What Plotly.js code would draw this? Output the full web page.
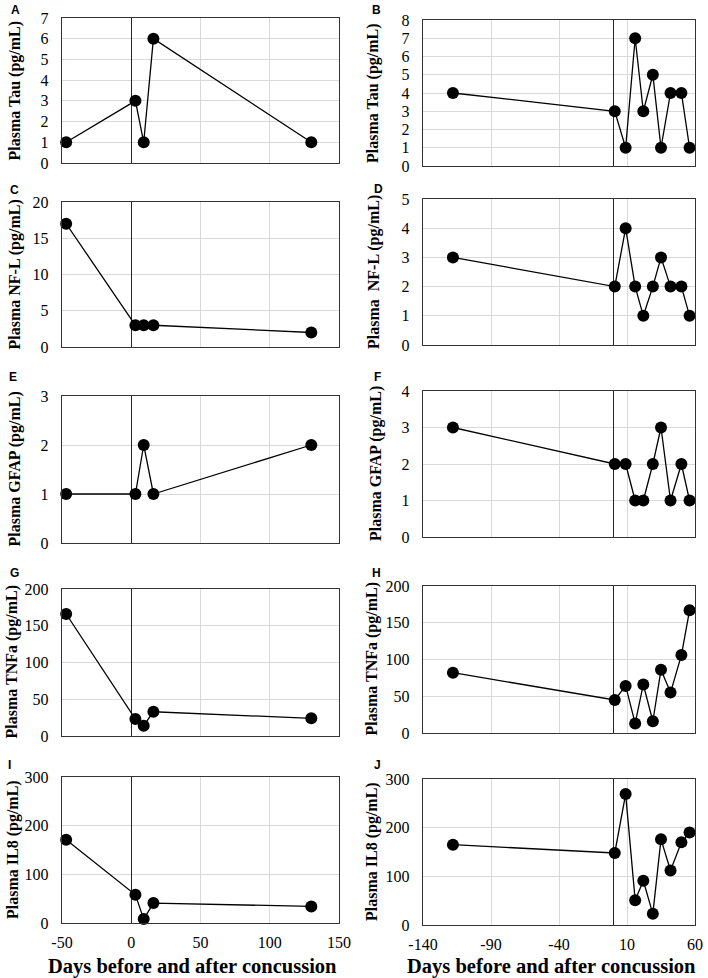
<!DOCTYPE html>
<html>
<head>
<meta charset="utf-8">
<script src="https://cdn.plot.ly/plotly-3.0.1.min.js"></script>
<style>
  html, body { margin: 0; padding: 0; background: #fff; }
  #chart { width: 708px; height: 978px; }
</style>
</head>
<body>
<div id="chart"></div>
<script>
// days relative to the concussion (day 0)
const leftDays = [-47, 3, 9, 16, 130];
const rightDays = [-118, 1, 9, 16, 22, 29, 35, 42, 50, 56];

// left column (A, C, E, G, I)
const tauA = [1, 3, 1, 6, 1];
const nflC = [17, 3, 3, 3, 2];
const gfapE = [1, 1, 2, 1, 2];
const tnfG = [166, 23, 14, 33, 24];
const il8I = [171, 58, 8, 41, 34];

// right column (B, D, F, H, J)
const tauB = [4, 3, 1, 7, 3, 5, 1, 4, 4, 1];
const nflD = [3, 2, 4, 2, 1, 2, 3, 2, 2, 1];
const gfapF = [3, 2, 2, 1, 1, 2, 3, 1, 2, 1];
const tnfH = [82, 45, 64, 13, 66, 16, 86, 55, 106, 167];
const il8J = [165, 148, 269, 51, 91, 23, 176, 112, 170, 190];

const leftTicks = [-50, 0, 50, 100, 150];
const leftTickText = ['-50', '0', '50', '100', '150'];
const rightTicks = [-140, -90, -40, 10, 60];
const rightTickText = ['-140', '-90', '-40', '10', '60'];

const W = 708, H = 978;
const serif = 'Liberation Serif, Times New Roman, serif';

const panels = [
  { letter: 'A', title: 'Plasma Tau (pg/mL)', y: tauA, ymax: 7, dtick: 1, col: 0, top: 18, bot: 163, tx: 15 },
  { letter: 'B', title: 'Plasma Tau (pg/mL)', y: tauB, ymax: 8, dtick: 1, col: 1, top: 20, bot: 166, tx: 373 },
  { letter: 'C', title: 'Plasma NF-L (pg/mL)', y: nflC, ymax: 20, dtick: 5, col: 0, top: 202, bot: 347, tx: 14 },
  { letter: 'D', title: 'Plasma  NF-L (pg/mL)', y: nflD, ymax: 5, dtick: 1, col: 1, top: 199, bot: 345, tx: 374 },
  { letter: 'E', title: 'Plasma GFAP (pg/mL)', y: gfapE, ymax: 3, dtick: 1, col: 0, top: 396, bot: 543, tx: 14 },
  { letter: 'F', title: 'Plasma GFAP (pg/mL)', y: gfapF, ymax: 4, dtick: 1, col: 1, top: 391, bot: 537, tx: 376 },
  { letter: 'G', title: 'Plasma TNFa (pg/mL)', y: tnfG, ymax: 200, dtick: 50, col: 0, top: 589, bot: 736, tx: 11 },
  { letter: 'H', title: 'Plasma TNFa (pg/mL)', y: tnfH, ymax: 200, dtick: 50, col: 1, top: 586, bot: 733, tx: 371 },
  { letter: 'I', title: 'Plasma IL8 (pg/mL)', y: il8I, ymax: 300, dtick: 100, col: 0, top: 777, bot: 923, tx: 13 },
  { letter: 'J', title: 'Plasma IL8 (pg/mL)', y: il8J, ymax: 300, dtick: 100, col: 1, top: 779, bot: 925, tx: 372 }
];

const letterPos = [[9, 10], [370, 10], [8, 190], [372, 189], [7, 377], [372, 377], [8, 573], [370, 573], [6, 765], [372, 765]];
const colX = [[62, 339], [423, 695]];

const data = [];
const layout = {
  width: W,
  height: H,
  margin: { l: 0, r: 0, t: 0, b: 0 },
  paper_bgcolor: '#fff',
  plot_bgcolor: '#fff',
  showlegend: false,
  font: { family: serif, color: '#000' },
  annotations: []
};

panels.forEach((p, i) => {
  const n = i === 0 ? '' : String(i + 1);
  const left = p.col === 0;
  const bottom = i >= 8;
  data.push({
    x: left ? leftDays : rightDays,
    y: p.y,
    xaxis: 'x' + n,
    yaxis: 'y' + n,
    mode: 'lines+markers',
    line: { color: '#000', width: 1.3 },
    marker: { color: '#000', size: 12 },
    cliponaxis: false,
    hoverinfo: 'x+y'
  });
  layout['xaxis' + n] = {
    domain: [colX[p.col][0] / W, colX[p.col][1] / W],
    anchor: 'y' + n,
    range: left ? [-50, 150] : [-140, 60],
    tickvals: left ? leftTicks : rightTicks,
    ticktext: left ? leftTickText : rightTickText,
    showticklabels: bottom,
    tickfont: { family: serif, size: 16, color: '#000' },
    ticklabelstandoff: 5,
    ticks: '',
    showgrid: true,
    gridcolor: '#d9d9d9',
    gridwidth: 1,
    zeroline: true,
    zerolinecolor: '#262626',
    zerolinewidth: 1.5,
    showline: true,
    mirror: true,
    linecolor: '#333',
    linewidth: 1.2,
    fixedrange: true
  };
  layout['yaxis' + n] = {
    domain: [1 - p.bot / H, 1 - p.top / H],
    anchor: 'x' + n,
    range: [0, p.ymax],
    tick0: 0,
    dtick: p.dtick,
    tickfont: { family: serif, size: 16, color: '#000' },
    ticklabelstandoff: 9,
    ticks: '',
    showgrid: true,
    gridcolor: '#d9d9d9',
    gridwidth: 1,
    zeroline: false,
    showline: true,
    mirror: true,
    linecolor: '#333',
    linewidth: 1.2,
    fixedrange: true
  };
  // y title
  layout.annotations.push({
    xref: 'paper', yref: 'paper',
    x: p.tx / W, y: 1 - (p.top + p.bot) / 2 / H,
    xanchor: 'center', yanchor: 'middle',
    textangle: -90,
    showarrow: false,
    text: '<b>' + p.title + '</b>',
    font: { family: serif, size: 16, color: '#000' }
  });
  // panel letter
  layout.annotations.push({
    xref: 'paper', yref: 'paper',
    x: letterPos[i][0] / W, y: 1 - letterPos[i][1] / H,
    xanchor: 'left', yanchor: 'middle',
    showarrow: false,
    text: '<b>' + p.letter + '</b>',
    font: { family: 'Liberation Sans, Arial, sans-serif', size: 12, color: '#000' }
  });
});

// x titles under the bottom row
[192, 551].forEach((cx) => {
  layout.annotations.push({
    xref: 'paper', yref: 'paper',
    x: cx / W, y: 1 - 966 / H,
    xanchor: 'center', yanchor: 'middle',
    showarrow: false,
    text: '<b>Days before and after concussion</b>',
    font: { family: serif, size: 20.5, color: '#000' }
  });
});

Plotly.newPlot('chart', data, layout, { displayModeBar: false, staticPlot: true });
</script>
</body>
</html>
